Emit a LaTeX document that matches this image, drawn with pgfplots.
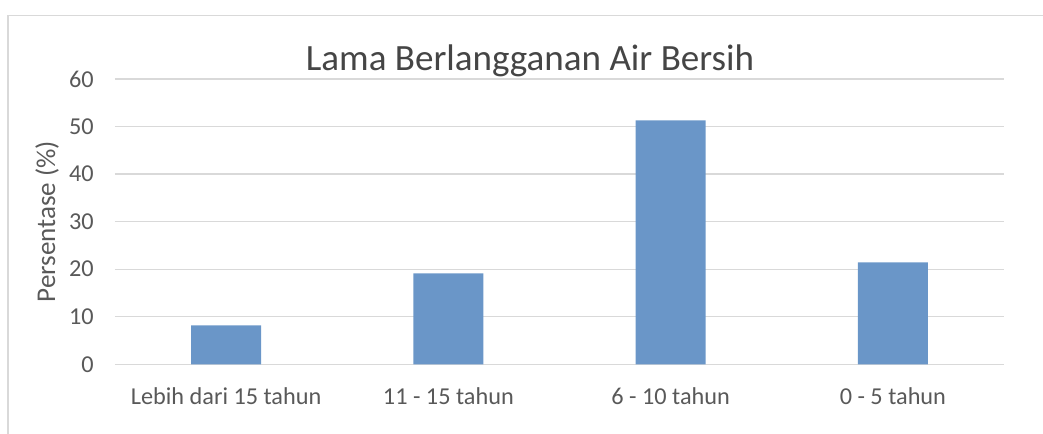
\documentclass[border=0pt]{standalone}
\usepackage{pgfplots}
\pgfplotsset{compat=1.18}
\usepackage{fontspec}
\setmainfont{Carlito}
\definecolor{barblue}{HTML}{6A96C8}
\definecolor{gridgrey}{HTML}{D9D9D9}
\definecolor{labgrey}{HTML}{595959}
\definecolor{titlegrey}{HTML}{454545}
\begin{document}
\begin{tikzpicture}
\useasboundingbox (0pt,0pt) rectangle (782.25pt,-325.5pt);
\draw[gridgrey, line width=1.1pt] (6pt,-330pt) -- (6pt,-11.8pt) -- (790pt,-11.8pt);
\node[anchor=base, text=titlegrey, font=\fontsize{27.8pt}{32pt}\selectfont, inner sep=0pt] at (397.5pt,-52.9pt) {Lama Berlangganan Air Bersih};
\begin{axis}[
  at={(86.25pt,-273.2pt)}, anchor=south west,
  scale only axis,
  width=666.75pt, height=214pt,
  ybar, bar width=52.5pt,
  xmin=-0.5, xmax=3.5, ymin=0, ymax=60,
  xtick={0,1,2,3},
  xticklabels={Lebih dari 15 tahun, 11 - 15 tahun, 6 - 10 tahun, 0 - 5 tahun},
  ytick={0,10,20,30,40,50,60},
  major tick length=0pt,
  ymajorgrids, grid style={gridgrey, line width=0.9pt},
  axis x line*=bottom, axis y line*=left,
  x axis line style={gridgrey, line width=0.9pt, -},
  y axis line style={draw=none},
  /pgf/number format/assume math mode=true,
  tick label style={font=\fontsize{18.2pt}{20pt}\selectfont, text=labgrey},
  yticklabel style={xshift=-12.5pt},
  xticklabel style={yshift=-14pt},
  ylabel={Persentase (\%)},
  every axis y label/.style={at={(axis description cs:-0.0765,0.5)}, rotate=90, anchor=center, font=\fontsize{20.3pt}{22pt}\selectfont, text=labgrey},
  clip=false,
]
\addplot[fill=barblue, draw=none] coordinates {(0,8.2) (1,19.1) (2,51.3) (3,21.4)};
\end{axis}
\end{tikzpicture}
\end{document}
